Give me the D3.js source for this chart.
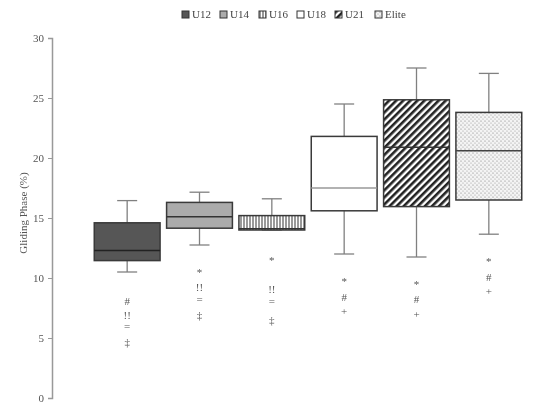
<!DOCTYPE html>
<html>
<head>
<meta charset="utf-8">
<script src="https://cdn.jsdelivr.net/npm/d3@7"></script>
<style>
  body { margin: 0; background: #fff; }
  text { font-family: "Liberation Serif", "DejaVu Serif", serif; }
</style>
</head>
<body>
<svg id="canvas" width="552" height="405"></svg>
<script>
// chart data
let groups = ['U12', 'U14', 'U16', 'U18', 'U21', 'Elite'];
let whiskerLow = [10.5, 12.75, 14.0, 12.0, 11.75, 13.65];
let q1 = [11.45, 14.15, 14.0, 15.6, 15.95, 16.5];
let medians = [12.3, 15.1, 14.1, 17.5, 20.9, 20.6];
let q3 = [14.6, 16.3, 15.2, 21.8, 24.85, 23.8];
let whiskerHigh = [16.45, 17.15, 16.6, 24.5, 27.5, 27.05];
let yTicks = [0, 5, 10, 15, 20, 25, 30];

// significance symbols under each box: [group, symbol, value]
let marks = [
  ['U12', '#', 8.0], ['U12', '!!', 6.8], ['U12', '=', 5.85], ['U12', '‡', 4.55],
  ['U14', '*', 10.4], ['U14', '!!', 9.1], ['U14', '=', 8.1], ['U14', '‡', 6.8],
  ['U16', '*', 11.35], ['U16', '!!', 8.95], ['U16', '=', 8.0], ['U16', '‡', 6.4],
  ['U18', '*', 9.6], ['U18', '#', 8.3], ['U18', '+', 7.1],
  ['U21', '*', 9.4], ['U21', '#', 8.1], ['U21', '+', 6.9],
  ['Elite', '*', 11.3], ['Elite', '#', 10.0], ['Elite', '+', 8.8]
];

let canvas = d3.select('#canvas');

// patterns for the fills
let defs = canvas.append('defs');

// grey filter, keeps small text free of colour fringes
defs.append('filter').attr('id', 'grey')
  .append('feColorMatrix').attr('type', 'saturate').attr('values', 0);

let vert = defs.append('pattern').attr('id', 'vert')
  .attr('patternUnits', 'userSpaceOnUse').attr('width', 3).attr('height', 3);
vert.append('rect').attr('width', 3).attr('height', 3).attr('fill', '#fff');
vert.append('line').attr('x1', 1).attr('x2', 1).attr('y1', 0).attr('y2', 3)
  .attr('stroke', '#333').attr('stroke-width', 1);

let diag = defs.append('pattern').attr('id', 'diag')
  .attr('patternUnits', 'userSpaceOnUse').attr('width', 5).attr('height', 5)
  .attr('patternTransform', 'rotate(45)');
diag.append('rect').attr('width', 5).attr('height', 5).attr('fill', '#fff');
diag.append('rect').attr('width', 2.6).attr('height', 5).attr('fill', '#222');

let dots = defs.append('pattern').attr('id', 'dots')
  .attr('patternUnits', 'userSpaceOnUse').attr('width', 4).attr('height', 4);
dots.append('rect').attr('width', 4).attr('height', 4).attr('fill', '#f4f4f4');
dots.append('circle').attr('cx', 1).attr('cy', 1).attr('r', 0.6).attr('fill', '#777');
dots.append('circle').attr('cx', 3).attr('cy', 3).attr('r', 0.6).attr('fill', '#999');

let fills = {
  'U12': '#565656',
  'U14': '#ababab',
  'U16': 'url(#vert)',
  'U18': '#fff',
  'U21': 'url(#diag)',
  'Elite': 'url(#dots)'
};
let medianColor = {
  'U12': '#222', 'U14': '#333', 'U16': '#333', 'U18': '#999', 'U21': '#333', 'Elite': '#444'
};

let y = d3.scaleLinear().domain([0, 30]).range([398, 38]);
let x = d3.scaleBand().domain(groups).range([91, 525])
  .paddingInner(0.09).paddingOuter(0.045);

// y axis
let yAxis = canvas.append('g')
  .attr('transform', 'translate(52,0)')
  .attr('filter', 'url(#grey)')
  .call(d3.axisLeft(y).tickValues(yTicks).tickSize(4).tickPadding(4));
yAxis.select('.domain').attr('stroke', '#999').attr('stroke-width', 1.5);
yAxis.selectAll('.tick line').attr('stroke', '#999');
yAxis.selectAll('.tick text')
  .attr('fill', '#555')
  .style('font-size', '11px')
  .style('font-family', '"Liberation Serif", serif');

canvas.append('g')
  .attr('filter', 'url(#grey)')
  .append('text')
  .attr('transform', 'translate(24,213) rotate(-90)')
  .attr('text-anchor', 'middle')
  .attr('dominant-baseline', 'middle')
  .attr('fill', '#555')
  .style('font-size', '11px')
  .text('Gliding Phase (%)');

// boxes
let block = canvas.selectAll('g.box')
  .data(groups)
  .enter()
  .append('g')
  .attr('class', 'box');

let cap = 10;

// whiskers
block.append('line')
  .attr('x1', (g) => x(g) + x.bandwidth() / 2)
  .attr('x2', (g) => x(g) + x.bandwidth() / 2)
  .attr('y1', (g, i) => y(whiskerHigh[i]))
  .attr('y2', (g, i) => y(whiskerLow[i]))
  .attr('stroke', '#808080').attr('stroke-width', 1.3);

block.append('line')
  .attr('x1', (g) => x(g) + x.bandwidth() / 2 - cap)
  .attr('x2', (g) => x(g) + x.bandwidth() / 2 + cap)
  .attr('y1', (g, i) => y(whiskerHigh[i]))
  .attr('y2', (g, i) => y(whiskerHigh[i]))
  .attr('stroke', '#808080').attr('stroke-width', 1.3);

block.append('line')
  .attr('x1', (g) => x(g) + x.bandwidth() / 2 - cap)
  .attr('x2', (g) => x(g) + x.bandwidth() / 2 + cap)
  .attr('y1', (g, i) => y(whiskerLow[i]))
  .attr('y2', (g, i) => y(whiskerLow[i]))
  .attr('stroke', '#808080').attr('stroke-width', 1.3);

block.append('rect')
  .attr('x', (g) => x(g))
  .attr('width', x.bandwidth())
  .attr('y', (g, i) => y(q3[i]))
  .attr('height', (g, i) => y(q1[i]) - y(q3[i]))
  .attr('fill', (g) => fills[g])
  .attr('stroke', '#3a3a3a')
  .attr('stroke-width', 1.5);

block.append('line')
  .attr('x1', (g) => x(g))
  .attr('x2', (g) => x(g) + x.bandwidth())
  .attr('y1', (g, i) => y(medians[i]))
  .attr('y2', (g, i) => y(medians[i]))
  .attr('stroke', (g) => medianColor[g])
  .attr('stroke-width', 1.5);

// symbols
let sig = canvas.append('g').attr('filter', 'url(#grey)');
sig.selectAll('text.sig')
  .data(marks)
  .enter()
  .append('text')
  .attr('class', 'sig')
  .attr('x', (m) => x(m[0]) + x.bandwidth() / 2)
  .attr('y', (m) => y(m[2]))
  .attr('text-anchor', 'middle')
  .attr('dominant-baseline', 'middle')
  .attr('fill', '#555')
  .style('font-size', '11px')
  .text((m) => m[1]);

// legend
let legendX = [182, 220, 259, 297, 335, 375];
let legend = canvas.selectAll('g.legend')
  .data(groups)
  .enter()
  .append('g')
  .attr('class', 'legend')
  .attr('filter', 'url(#grey)')
  .attr('transform', (g, i) => `translate(${legendX[i]}, 11)`);

legend.append('rect')
  .attr('width', 7).attr('height', 7)
  .attr('fill', (g) => fills[g])
  .attr('stroke', '#333').attr('stroke-width', 1);

legend.append('text')
  .attr('x', 10).attr('y', 4)
  .attr('dominant-baseline', 'middle')
  .attr('fill', '#444')
  .style('font-size', '11px')
  .text((g) => g);
</script>
</body>
</html>
